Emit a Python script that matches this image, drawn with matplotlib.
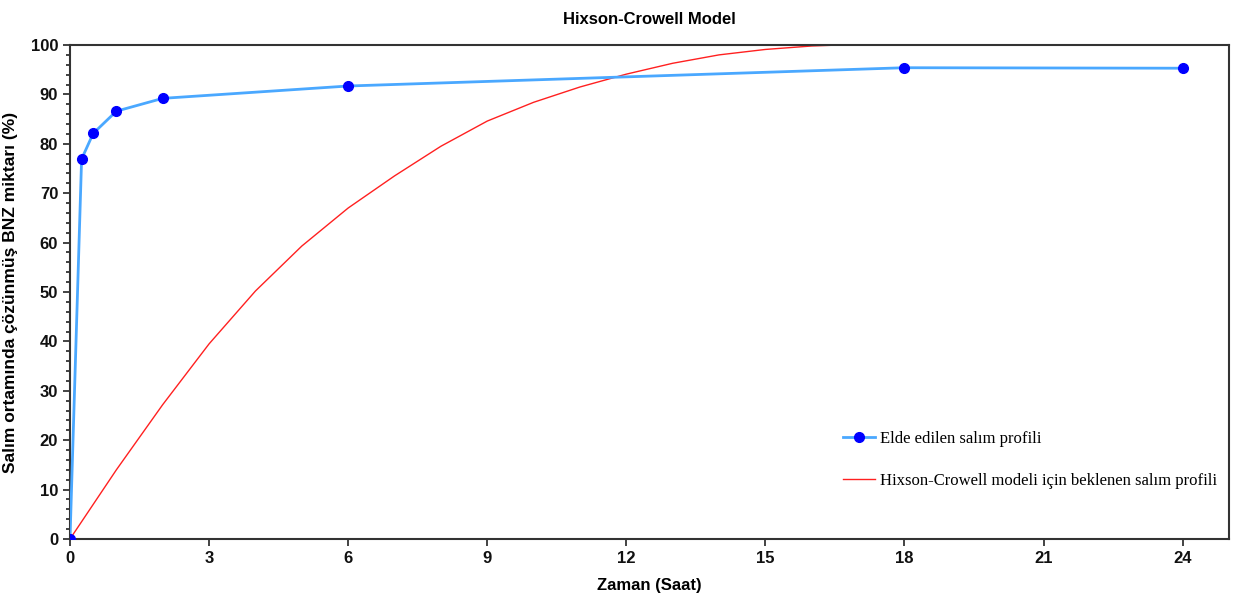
import matplotlib
matplotlib.use('Agg')
import matplotlib.pyplot as plt
from matplotlib.ticker import MultipleLocator

# measured release profile
t_obs = [0, 0.25, 0.5, 1, 2, 6, 18, 24]
rel_obs = [0, 76.9, 82.1, 86.6, 89.2, 91.7, 95.4, 95.3]

# Hixson-Crowell expected profile
t_hc = [0, 1, 2, 3, 4, 5, 6, 7, 8, 9, 10, 11, 12, 13, 14, 15, 16, 16.6, 21]
rel_hc = [0, 14.0, 27.2, 39.5, 50.2, 59.3, 67.0, 73.5, 79.5, 84.6, 88.4, 91.5, 94.1, 96.3, 98.0, 99.1, 99.8, 100, 100]

lbl_obs = 'Elde edilen salım profili'
lbl_hc = 'Hixson-Crowell modeli için beklenen salım profili'

sans = ['Liberation Sans', 'DejaVu Sans']

fig = plt.figure(figsize=(12.33, 6.06), dpi=100)
ax = fig.add_axes([70/1233, 1-539/606, 1159/1233, 494/606])

ax.plot(t_obs, rel_obs, color='#4aa8ff', lw=2, marker='o', ms=7,
        mfc='#0000ff', mec='#0000ff', label=lbl_obs, zorder=3)
ax.plot(t_hc, rel_hc, color='#ff2020', lw=1, label=lbl_hc, zorder=2)

ax.set_xlim(0, 25)
ax.set_ylim(0, 100)
ax.xaxis.set_major_locator(MultipleLocator(3))
ax.yaxis.set_major_locator(MultipleLocator(10))
ax.yaxis.set_minor_locator(MultipleLocator(2))
ax.tick_params(axis='both', which='major', direction='out', length=5, width=1.2, colors='#222222')
ax.tick_params(axis='y', which='minor', direction='out', length=3, width=1.2, colors='#222222')
for lab in ax.get_xticklabels() + ax.get_yticklabels():
    lab.set_family(sans)
    lab.set_fontweight('bold')
    lab.set_fontsize(12)
    lab.set_color('#111111')
for s in ax.spines.values():
    s.set_linewidth(1.5)
    s.set_color('#333333')

ax.set_title('Hixson-Crowell Model', family=sans, fontweight='bold', fontsize=12, pad=15)
ax.set_xlabel('Zaman (Saat)', family=sans, fontweight='bold', fontsize=12, labelpad=9)
ax.set_ylabel('Salım ortamında çözünmüş BNZ miktarı (%)', family=sans, fontweight='bold',
              fontsize=12.5, labelpad=9)

leg = ax.legend(loc='upper left', bbox_to_anchor=(0.654, 0.25), frameon=False,
                prop={'family': ['Liberation Serif', 'DejaVu Serif'], 'size': 12},
                handlelength=1.9, labelspacing=1.6, handletextpad=0.3)

fig.savefig('out.png', dpi=100)
